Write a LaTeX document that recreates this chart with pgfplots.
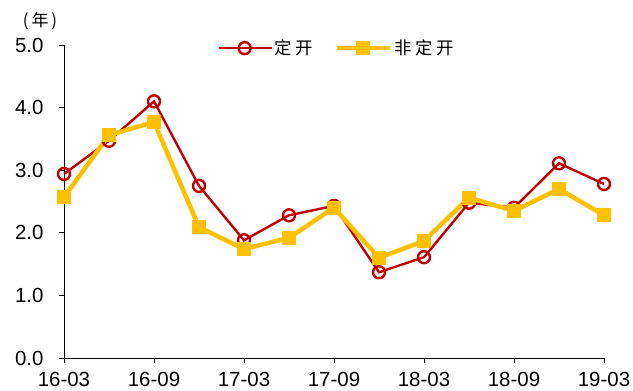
\documentclass[border=0pt]{standalone}
\usepackage{fontspec}
\setmainfont{Liberation Sans}
\newfontfamily\cjk{Noto Sans CJK SC}
\newfontfamily\cjkl[LetterSpace=20]{Noto Sans CJK SC}
\usepackage{pgfplots}
\pgfplotsset{compat=1.18}
\definecolor{cred}{HTML}{C00000}
\definecolor{cgold}{HTML}{FFC000}
\begin{document}
\begin{tikzpicture}
\useasboundingbox (0,0) rectangle (633bp,391bp);
\begin{axis}[
  at={(64bp,33bp)}, anchor=south west,
  scale only axis, width=540bp, height=313bp,
  xmin=0, xmax=12, ymin=0, ymax=5,
  axis x line*=bottom, axis y line*=left,
  axis line style={-, black, line width=1pt},
  xtick={0,2,...,12},
  xticklabels={16-03,16-09,17-03,17-09,18-03,18-09,19-03},
  ytick={0,1,...,5},
  yticklabel style={xshift=-12bp, /pgf/number format/.cd, fixed, fixed zerofill, precision=1},
  /pgf/number format/assume math mode=true,
  tick align=outside, major tick length=5bp,
  tick style={black, line width=1pt},
  tick label style={font=\fontsize{20.5}{20.5}\selectfont},
  xticklabel style={yshift=-6bp},
  legend style={at={(0.505,0.99)}, anchor=center, draw=none, fill=none,
    legend columns=2, font=\cjkl\fontsize{17.5}{17.5}\selectfont,
    /tikz/every even column/.append style={column sep=20bp}},
  legend image code/.code={\draw[mark repeat=2,mark phase=2] plot coordinates {(0bp,0bp)(26bp,0bp)(53bp,0bp)};},
  clip=false,
]
\addplot[cred, line width=2.4bp, mark=o, mark size=6bp, mark options={fill=white, line width=2.4bp}]
  coordinates {(0,2.94)(1,3.47)(2,4.10)(3,2.75)(4,1.88)(5,2.28)(6,2.43)(7,1.37)(8,1.61)(9,2.48)(10,2.40)(11,3.11)(12,2.78)};
\addlegendentry{定开}
\addplot[cgold, line width=4.5bp, mark=square*, mark size=6.5bp, mark options={line width=0pt}]
  coordinates {(0,2.57)(1,3.56)(2,3.77)(3,2.09)(4,1.74)(5,1.92)(6,2.40)(7,1.60)(8,1.87)(9,2.56)(10,2.35)(11,2.70)(12,2.28)};
\addlegendentry{非定开}
\end{axis}
\node[font=\cjk\fontsize{17}{17}\selectfont, anchor=center] at (40bp,370bp) {(\,年\,)};
\end{tikzpicture}
\end{document}
